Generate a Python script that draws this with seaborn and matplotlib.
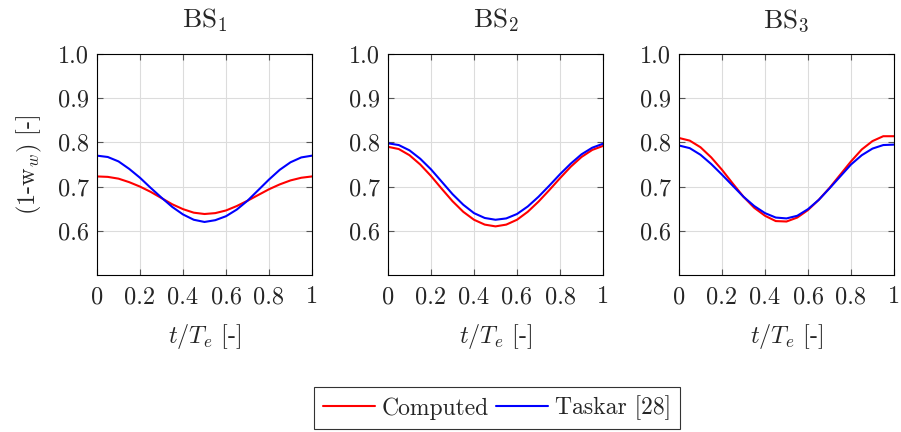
import numpy as np
import pandas as pd
import matplotlib
matplotlib.use("Agg")
import matplotlib.pyplot as plt
import seaborn as sns
from matplotlib.lines import Line2D

t = [0.0, 0.05, 0.1, 0.15, 0.2, 0.25, 0.3, 0.35, 0.4, 0.45, 0.5,
     0.55, 0.6, 0.65, 0.7, 0.75, 0.8, 0.85, 0.9, 0.95, 1.0]

bs1_computed = [.723, .722, .718, .710, .700, .688, .674, .660, .649, .641, .638,
                .640, .646, .656, .668, .681, .694, .705, .714, .720, .723]
bs1_taskar = [.770, .767, .757, .740, .720, .697, .675, .654, .637, .625, .620,
              .624, .633, .648, .668, .692, .716, .738, .755, .766, .770]
bs2_computed = [.790, .785, .771, .750, .724, .695, .667, .643, .625, .614, .610,
                .614, .625, .643, .666, .692, .719, .745, .767, .783, .792]
bs2_taskar = [.798, .794, .782, .763, .739, .711, .683, .659, .640, .629, .625,
              .628, .638, .655, .677, .702, .728, .752, .773, .788, .797]
bs3_computed = [.810, .804, .789, .766, .738, .707, .677, .652, .634, .622, .621,
                .630, .647, .670, .697, .727, .757, .784, .803, .814, .814]
bs3_taskar = [.793, .787, .772, .751, .727, .702, .677, .656, .640, .630, .628,
              .634, .649, .670, .696, .723, .750, .771, .786, .794, .795]

titles = ["BS$_1$", "BS$_2$", "BS$_3$"]
series_names = ["Computed", "Taskar [28]"]
x_ticks = [0, 0.2, 0.4, 0.6, 0.8, 1.0]
x_tick_labels = ["0", "0.2", "0.4", "0.6", "0.8", "1"]
y_ticks = [0.6, 0.7, 0.8, 0.9, 1.0]
y_tick_labels = ["0.6", "0.7", "0.8", "0.9", "1.0"]

sns.set_theme(style="white")
plt.rcParams["font.family"] = ["cmr10"]
plt.rcParams["mathtext.fontset"] = "cm"
plt.rcParams["axes.formatter.use_mathtext"] = True

FS = 17.5
colors = ["#ff0000", "#0000ff"]

fig = plt.figure(figsize=(9.01, 4.32), dpi=100)
lefts = [97 / 901, 388 / 901, 679 / 901]
w = 215 / 901
bottom = 1 - 275 / 432
h = (275 - 54) / 432

data = [(bs1_computed, bs1_taskar), (bs2_computed, bs2_taskar), (bs3_computed, bs3_taskar)]

for i, (l, (comp, task)) in enumerate(zip(lefts, data)):
    ax = fig.add_axes([l, bottom, w, h])
    df = pd.DataFrame({"t": t * 2,
                       "v": comp + task,
                       "s": [series_names[0]] * len(t) + [series_names[1]] * len(t)})
    sns.lineplot(data=df, x="t", y="v", hue="s", palette=colors, ax=ax,
                 linewidth=1.5, legend=False, sort=True)
    ax.set_xlim(0, 1)
    ax.set_ylim(0.5, 1.0)
    ax.set_xticks(x_ticks)
    ax.set_xticklabels(x_tick_labels, fontsize=FS)
    ax.set_yticks(y_ticks)
    ax.set_yticklabels(y_tick_labels, fontsize=FS)
    ax.grid(True, color="#dcdcdc", linewidth=0.8)
    ax.set_axisbelow(True)
    ax.tick_params(direction="in", length=4, width=0.8, color="#555555",
                   top=True, right=True, bottom=True, left=True)
    ax.tick_params(axis="x", pad=8)
    ax.tick_params(axis="y", pad=6)
    for sp in ax.spines.values():
        sp.set_color("black")
        sp.set_linewidth(0.8)
    ax.set_title(titles[i], fontsize=FS + 2, pad=19)
    ax.set_xlabel("$t/T_e$ [-]", fontsize=FS, labelpad=10)
    if i == 0:
        ax.set_ylabel("(1-w$_w$) [-]", fontsize=FS, labelpad=10)
    else:
        ax.set_ylabel("")

handles = [Line2D([], [], color=c, linewidth=1.5) for c in colors]
fig.legend(handles, series_names, loc="center", bbox_to_anchor=(497 / 901, 1 - 408 / 432),
           ncol=2, fontsize=FS - 0.5, frameon=True, fancybox=False, edgecolor="black",
           handlelength=2.2, handletextpad=0.3, columnspacing=0.3, borderpad=0.35)
leg = fig.legends[0]
leg.get_frame().set_linewidth(0.8)

fig.savefig("out.png", dpi=100)
